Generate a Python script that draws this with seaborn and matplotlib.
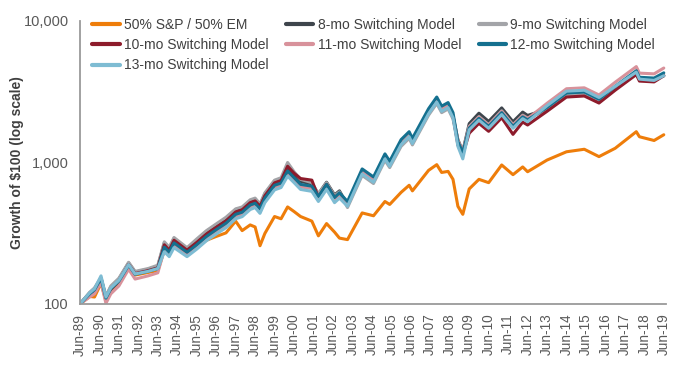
import pandas as pd
import matplotlib
matplotlib.use("Agg")
import matplotlib.pyplot as plt
import matplotlib.ticker as mticker
import seaborn as sns

# dates (turning points)
dates = ["1989-06", "1989-12", "1990-03", "1990-07", "1990-10", "1991-01", "1991-06", "1991-12",
         "1992-04", "1992-12", "1993-06", "1993-10", "1994-01", "1994-04", "1994-12", "1995-06",
         "1995-12", "1996-06", "1996-12", "1997-06", "1997-10", "1998-03", "1998-06", "1998-09",
         "1998-12", "1999-06", "1999-10", "2000-02", "2000-06", "2000-10", "2001-05", "2001-09",
         "2002-02", "2002-07", "2002-10", "2003-03", "2003-12", "2004-07", "2005-02", "2005-05",
         "2005-12", "2006-05", "2006-07", "2007-05", "2007-10", "2008-01", "2008-05", "2008-08",
         "2008-11", "2009-02", "2009-06", "2009-12", "2010-06", "2011-02", "2011-09", "2012-03",
         "2012-06", "2013-06", "2014-06", "2015-05", "2016-02", "2016-12", "2018-01", "2018-03",
         "2018-12", "2019-06"]

sp_em = [100, 113, 112, 140, 106, 124, 140, 183, 160, 167, 172, 240, 225, 262, 226, 252,
         282, 300, 318, 385, 330, 362, 350, 258, 315, 415, 400, 485, 450, 415, 385, 303,
         370, 322, 292, 285, 440, 420, 530, 505, 615, 690, 630, 880, 965, 850, 865, 760,
         490, 430, 650, 760, 720, 960, 820, 930, 860, 1040, 1190, 1240, 1100, 1260, 1650, 1520,
         1430, 1570]

m8 = [100, 120, 128, 152, 112, 132, 150, 195, 168, 176, 185, 270, 246, 290, 246, 282,
      325, 362, 402, 465, 478, 535, 550, 500, 600, 740, 765, 915, 820, 735, 705, 600,
      725, 590, 630, 500, 845, 745, 1080, 960, 1360, 1550, 1390, 2250, 2720, 2350, 2490, 2110,
      1450, 1200, 1880, 2230, 1950, 2430, 1940, 2270, 2150, 2380, 3000, 3060, 2720, 3350, 4250, 3900,
      3850, 4100]

m9 = [100, 121, 130, 154, 114, 134, 152, 197, 170, 178, 188, 275, 252, 295, 250, 288,
      330, 368, 410, 470, 485, 545, 560, 510, 610, 750, 780, 1000, 860, 760, 720, 600,
      720, 580, 620, 480, 810, 710, 1035, 920, 1300, 1480, 1330, 2160, 2610, 2250, 2390, 2030,
      1400, 1150, 1800, 2110, 1850, 2320, 1850, 2160, 2060, 2350, 2980, 3020, 2690, 3310, 4270, 3840,
      3790, 4130]

m10 = [100, 118, 125, 150, 108, 127, 145, 190, 164, 172, 180, 262, 240, 282, 240, 272,
       312, 348, 386, 447, 463, 520, 535, 490, 582, 718, 745, 940, 840, 770, 750, 565,
       700, 565, 600, 505, 855, 750, 1090, 970, 1380, 1570, 1400, 2280, 2750, 2380, 2520, 2140,
       1330, 1140, 1610, 1890, 1660, 2070, 1580, 1930, 1840, 2300, 2900, 2950, 2630, 3240, 4180, 3760,
       3710, 4100]

m11 = [100, 112, 118, 142, 101, 118, 134, 176, 150, 158, 166, 242, 222, 258, 222, 252,
       290, 322, 357, 413, 428, 480, 494, 452, 538, 662, 686, 835, 750, 672, 655, 552,
       672, 542, 585, 510, 865, 760, 1105, 980, 1390, 1585, 1420, 2300, 2780, 2400, 2545, 2160,
       1430, 1200, 1785, 2090, 1835, 2295, 1835, 2140, 2040, 2620, 3320, 3370, 3000, 3690, 4760, 4280,
       4230, 4650]

m12 = [100, 118, 126, 152, 110, 128, 145, 188, 162, 170, 178, 252, 232, 270, 232, 262,
       300, 335, 372, 430, 445, 500, 515, 470, 560, 690, 715, 870, 780, 700, 680, 575,
       700, 565, 610, 530, 900, 790, 1150, 1020, 1450, 1650, 1480, 2400, 2900, 2500, 2650, 2250,
       1400, 1180, 1750, 2050, 1800, 2250, 1800, 2100, 2000, 2450, 3100, 3150, 2800, 3450, 4450, 4000,
       3950, 4300]

m13 = [100, 120, 128, 158, 112, 130, 147, 190, 163, 170, 178, 234, 216, 250, 216, 244,
       280, 312, 346, 400, 414, 465, 480, 437, 520, 640, 665, 800, 720, 645, 625, 530,
       645, 520, 560, 490, 830, 725, 1060, 940, 1335, 1520, 1360, 2210, 2670, 2300, 2440, 2070,
       1300, 1060, 1700, 1990, 1745, 2180, 1745, 2040, 1940, 2520, 3190, 3240, 2880, 3450, 4350, 3880,
       3800, 4100]

names = ["50% S&P / 50% EM", "8-mo Switching Model", "9-mo Switching Model",
         "10-mo Switching Model", "11-mo Switching Model", "12-mo Switching Model",
         "13-mo Switching Model"]
series = [sp_em, m8, m9, m10, m11, m12, m13]
colors = ["#EE7D0A", "#3E454C", "#A3A4A8", "#8D1B2B", "#D8929B", "#14708F", "#7EBCD3"]

df = pd.DataFrame({"date": pd.to_datetime(dates)})
for n, s in zip(names, series):
    df[n] = s
long = df.melt(id_vars="date", var_name="series", value_name="value")

sns.set_style("white")
plt.rcParams["font.family"] = ["Liberation Sans", "DejaVu Sans"]

fig = plt.figure(figsize=(6.8, 3.68), dpi=100)
ax = fig.add_axes([0.1176, 0.174, 0.862, 0.769])

sns.lineplot(data=long, x="date", y="value", hue="series", hue_order=names,
             palette=dict(zip(names, colors)), linewidth=2.2, ax=ax, legend=False)

ax.set_yscale("log")
ax.set_ylim(100, 10000)
ax.set_xlim(pd.Timestamp("1989-06-01"), pd.Timestamp("2019-07-15"))
ax.yaxis.set_major_locator(mticker.FixedLocator([100, 1000, 10000]))
ax.yaxis.set_major_formatter(mticker.FuncFormatter(lambda v, p: f"{int(v):,}"))
ax.yaxis.set_minor_locator(mticker.NullLocator())

ticks = pd.date_range("1989-06-01", "2019-06-01", freq="12MS")
ax.set_xticks(ticks)
ax.set_xticklabels([t.strftime("Jun-%y") for t in ticks], rotation=90)
ax.xaxis.set_minor_locator(mticker.NullLocator())

ax.set_xlabel("")
ax.set_ylabel("Growth of $100 (log scale)", fontsize=10, fontweight="bold",
              color="#404040", labelpad=0)

for s in ["top", "right"]:
    ax.spines[s].set_visible(False)
for s in ["left", "bottom"]:
    ax.spines[s].set_color("#9A9A9A")
    ax.spines[s].set_linewidth(1.3)
ax.tick_params(axis="both", which="major", direction="out", length=4, width=1,
               color="#9A9A9A", labelcolor="#595959")
ax.tick_params(axis="y", labelsize=10.5, pad=4)
ax.tick_params(axis="x", labelsize=9.8, pad=3)

handles = [plt.Line2D([], [], color=c, linewidth=3) for c in colors]
order = [0, 3, 6, 1, 4, 2, 5]
ax.legend([handles[i] for i in order], [names[i] for i in order], ncol=3,
          loc="upper left", bbox_to_anchor=(0.0, 1.055), frameon=False, fontsize=10,
          handlelength=1.95, handletextpad=0.3, columnspacing=1.3, labelspacing=0.45,
          labelcolor="#404040")

fig.savefig("out.png", dpi=100)
